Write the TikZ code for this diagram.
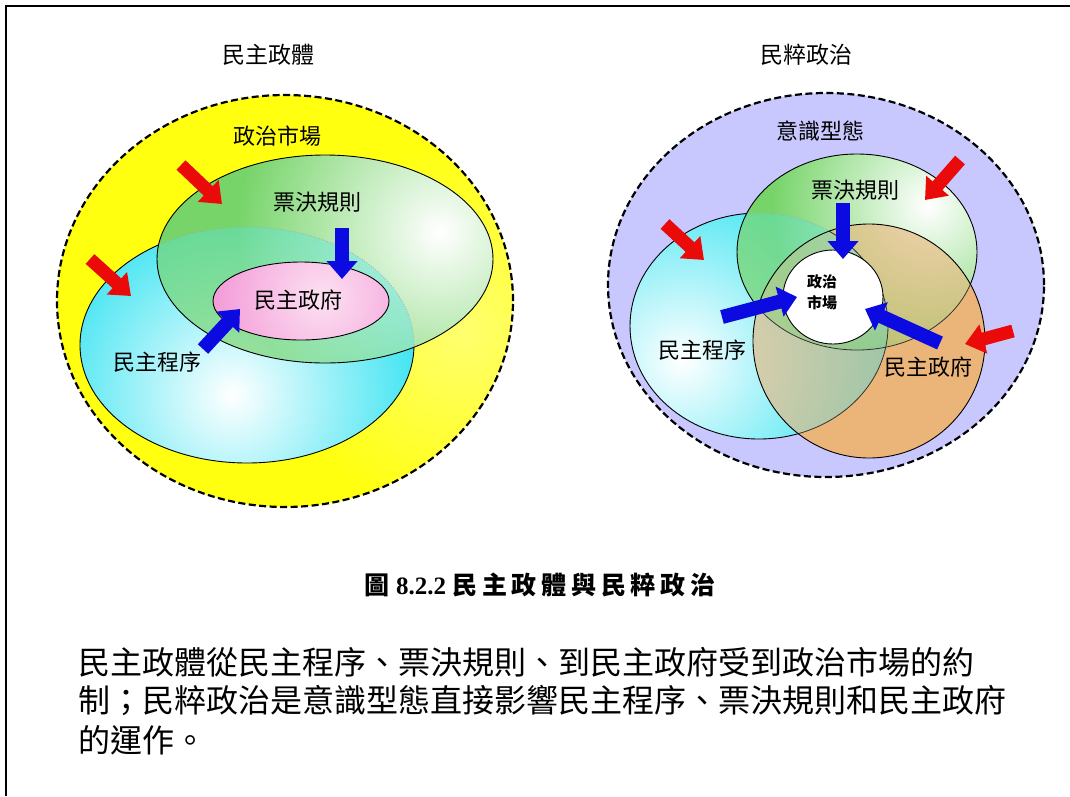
\documentclass[tikz,border=0pt]{standalone}
\usepackage{fontspec}
\setmainfont{Liberation Serif}
\newfontfamily\cjk{Noto Sans CJK TC}
\usetikzlibrary{arrows.meta}
\definecolor{yel}{RGB}{255,255,15}
\definecolor{yelpale}{RGB}{255,255,190}
\definecolor{cyn}{RGB}{40,225,240}
\definecolor{grn}{RGB}{118,212,105}
\definecolor{pnk}{RGB}{240,125,205}
\definecolor{pnkpale}{RGB}{252,225,242}
\definecolor{lav}{RGB}{200,200,255}
\definecolor{org}{RGB}{235,180,120}
\definecolor{redA}{RGB}{235,10,10}
\definecolor{bluA}{RGB}{10,10,225}
\pgfdeclareradialshading{yglow}{\pgfpoint{0bp}{0bp}}{color(0bp)=(yel!45!yelpale); color(11bp)=(yel); color(50bp)=(yel)}
\pgfdeclareradialshading{cglow}{\pgfpoint{0bp}{0bp}}{color(0bp)=(white); color(22bp)=(cyn); color(50bp)=(cyn)}
\pgfdeclareradialshading{gglow}{\pgfpoint{0bp}{0bp}}{color(0bp)=(white); color(17bp)=(grn); color(50bp)=(grn)}
\pgfdeclareradialshading{pglow}{\pgfpoint{0bp}{0bp}}{color(0bp)=(pnkpale); color(30bp)=(pnk); color(50bp)=(pnk)}
\begin{document}
\begin{tikzpicture}[x=1pt,y=-1pt,
  ell/.style={draw=black,line width=0.9pt},
  outerell/.style={draw=black,line width=2.2pt,dash pattern=on 7pt off 3.5pt},
  lbl/.style={font=\cjk\fontsize{22}{26}\selectfont,inner sep=0pt},
  ttl/.style={font=\cjk\fontsize{23}{27}\selectfont,inner sep=0pt},
  small/.style={font=\cjk\bfseries\fontsize{15}{19}\selectfont,inner sep=0pt,align=center},
  body/.style={font=\cjk\fontsize{32}{38}\selectfont,inner sep=0pt,anchor=west},
  redarr/.style={draw=redA,line width=13pt,-{Triangle[width=29pt,length=19pt]}},
  bluearr/.style={draw=bluA,line width=14pt,-{Triangle[width=30pt,length=18pt]}},
]
\useasboundingbox (0,0) rectangle (1070,796);
\fill[white] (0,0) rectangle (1070,796);
% frame
\coordinate (fb) at (6,796);
\coordinate (fc) at (6,6);
\coordinate (fr) at (1070,6);
\draw[line width=2.5pt] (fb) -- (fc) -- (fr);

% ---------------- left diagram ----------------
\coordinate (LO) at (285,301);
\coordinate (LC) at (247,345);
\coordinate (LG) at (325,259);
\coordinate (LP) at (301,301);
\begin{scope}
  \clip (LO) ellipse [x radius=228pt,y radius=206pt];
  \shade[shading=yglow] (462,330) circle (430pt);
\end{scope}
\draw[outerell] (LO) ellipse [x radius=228pt,y radius=206pt];
% cyan
\begin{scope}
  \clip (LC) ellipse [x radius=167pt,y radius=118pt];
  \shade[shading=cglow] (232,395) circle (240pt);
\end{scope}
\draw[ell] (LC) ellipse [x radius=167pt,y radius=118pt];
% green
\begin{scope}
  \clip (LG) ellipse [x radius=168pt,y radius=104pt];
  \shade[shading=gglow] (440,232) circle (300pt);
  \begin{scope}[opacity=0.35]
    \clip (LC) ellipse [x radius=167pt,y radius=118pt];
    \shade[shading=cglow] (232,395) circle (240pt);
  \end{scope}
  \draw[black!35,line width=0.8pt,dotted] (LC) ellipse [x radius=167pt,y radius=118pt];
\end{scope}
\draw[ell] (LG) ellipse [x radius=168pt,y radius=104pt];
% pink
\begin{scope}
  \clip (LP) ellipse [x radius=88pt,y radius=39pt];
  \shade[shading=pglow] (322,298) circle (130pt);
\end{scope}
\draw[ell] (LP) ellipse [x radius=88pt,y radius=39pt];

\node[ttl] (t1) at (268,55) {民主政體};
\node[lbl] (l1) at (277,136) {政治市場};
\node[lbl] (l2) at (317,202) {票決規則};
\node[lbl] (l3) at (298,300) {民主政府};
\node[lbl] (l4) at (157,362) {民主程序};

\coordinate (a1s) at (181,165); \coordinate (a1e) at (222,204);
\coordinate (a2s) at (90,259);  \coordinate (a2e) at (131,296);
\coordinate (b1s) at (342,228); \coordinate (b1e) at (342,279);
\coordinate (b2s) at (203,349); \coordinate (b2e) at (240,309);
\draw[redarr] (a1s) -- (a1e);
\draw[redarr] (a2s) -- (a2e);
\draw[bluearr] (b1s) -- (b1e);
\draw[bluearr] (b2s) -- (b2e);

% ---------------- right diagram ----------------
\coordinate (RO) at (826,285);
\coordinate (RC) at (759,326);
\coordinate (RG) at (857,252);
\coordinate (RR) at (869,341);
\coordinate (RW) at (833,297);
\fill[lav] (RO) ellipse [x radius=218pt,y radius=192pt];
\draw[outerell] (RO) ellipse [x radius=218pt,y radius=192pt];
% cyan
\begin{scope}
  \clip (RC) ellipse [x radius=129pt,y radius=113pt];
  \shade[shading=cglow] (682,360) circle (240pt);
\end{scope}
\draw[ell] (RC) ellipse [x radius=129pt,y radius=113pt];
% green
\begin{scope}
  \clip (RG) ellipse [x radius=120pt,y radius=98pt];
  \shade[shading=gglow] (928,205) circle (230pt);
  \begin{scope}[opacity=0.3]
    \clip (RC) ellipse [x radius=129pt,y radius=113pt];
    \shade[shading=cglow] (682,360) circle (240pt);
  \end{scope}
  \draw[black!35,line width=0.8pt,dotted] (RC) ellipse [x radius=129pt,y radius=113pt];
\end{scope}
\draw[ell] (RG) ellipse [x radius=120pt,y radius=98pt];
% orange
\begin{scope}
  \clip (RR) ellipse [x radius=116pt,y radius=117pt];
  \fill[org] (RR) ellipse [x radius=116pt,y radius=117pt];
  \begin{scope}[opacity=0.4]
    \clip (RC) ellipse [x radius=129pt,y radius=113pt];
    \shade[shading=cglow] (682,360) circle (240pt);
  \end{scope}
  \begin{scope}[opacity=0.4]
    \clip (RG) ellipse [x radius=120pt,y radius=98pt];
    \shade[shading=gglow] (928,205) circle (230pt);
  \end{scope}
  \draw[black!80,line width=0.8pt] (RC) ellipse [x radius=129pt,y radius=113pt];
  \draw[black!80,line width=0.8pt] (RG) ellipse [x radius=120pt,y radius=98pt];
\end{scope}
\draw[ell] (RR) ellipse [x radius=116pt,y radius=117pt];
% white
\fill[white] (RW) ellipse [x radius=50pt,y radius=47pt];
\draw[ell] (RW) ellipse [x radius=50pt,y radius=47pt];

\node[ttl] (t2) at (806,55) {民粹政治};
\node[lbl] (r1) at (820,131) {意識型態};
\node[lbl] (r2) at (855,190) {票決規則};
\node[small] (r3) at (822,292) {政治\\[2pt]市場};
\node[lbl] (r4) at (702,350) {民主程序};
\node[lbl] (r5) at (928,367) {民主政府};

\coordinate (c1s) at (960,160);  \coordinate (c1e) at (925,200);
\coordinate (c2s) at (665,224);  \coordinate (c2e) at (704,260);
\coordinate (c3s) at (1013,331); \coordinate (c3e) at (965,344);
\coordinate (d1s) at (843,203);  \coordinate (d1e) at (843,259);
\coordinate (d2s) at (722,317);  \coordinate (d2e) at (797,297);
\coordinate (d3s) at (940,343);  \coordinate (d3e) at (865,309);
\draw[redarr] (c1s) -- (c1e);
\draw[redarr] (c2s) -- (c2e);
\draw[redarr] (c3s) -- (c3e);
\draw[bluearr] (d1s) -- (d1e);
\draw[bluearr] (d2s) -- (d2e);
\draw[bluearr] (d3s) -- (d3e);

% caption and text
\node[inner sep=0pt] (cap) at (540,585) {\bfseries\fontsize{25}{29}\selectfont{\cjk 圖} 8.2.2 {\cjk\addfontfeature{LetterSpace=19}民主政體與民粹政治}};
\node[body] (p1) at (78,662) {民主政體從民主程序、票決規則、到民主政府受到政治市場的約};
\node[body] (p2) at (78,701) {制；民粹政治是意識型態直接影響民主程序、票決規則和民主政府};
\node[body] (p3) at (78,740) {的運作。};
\end{tikzpicture}
\end{document}
